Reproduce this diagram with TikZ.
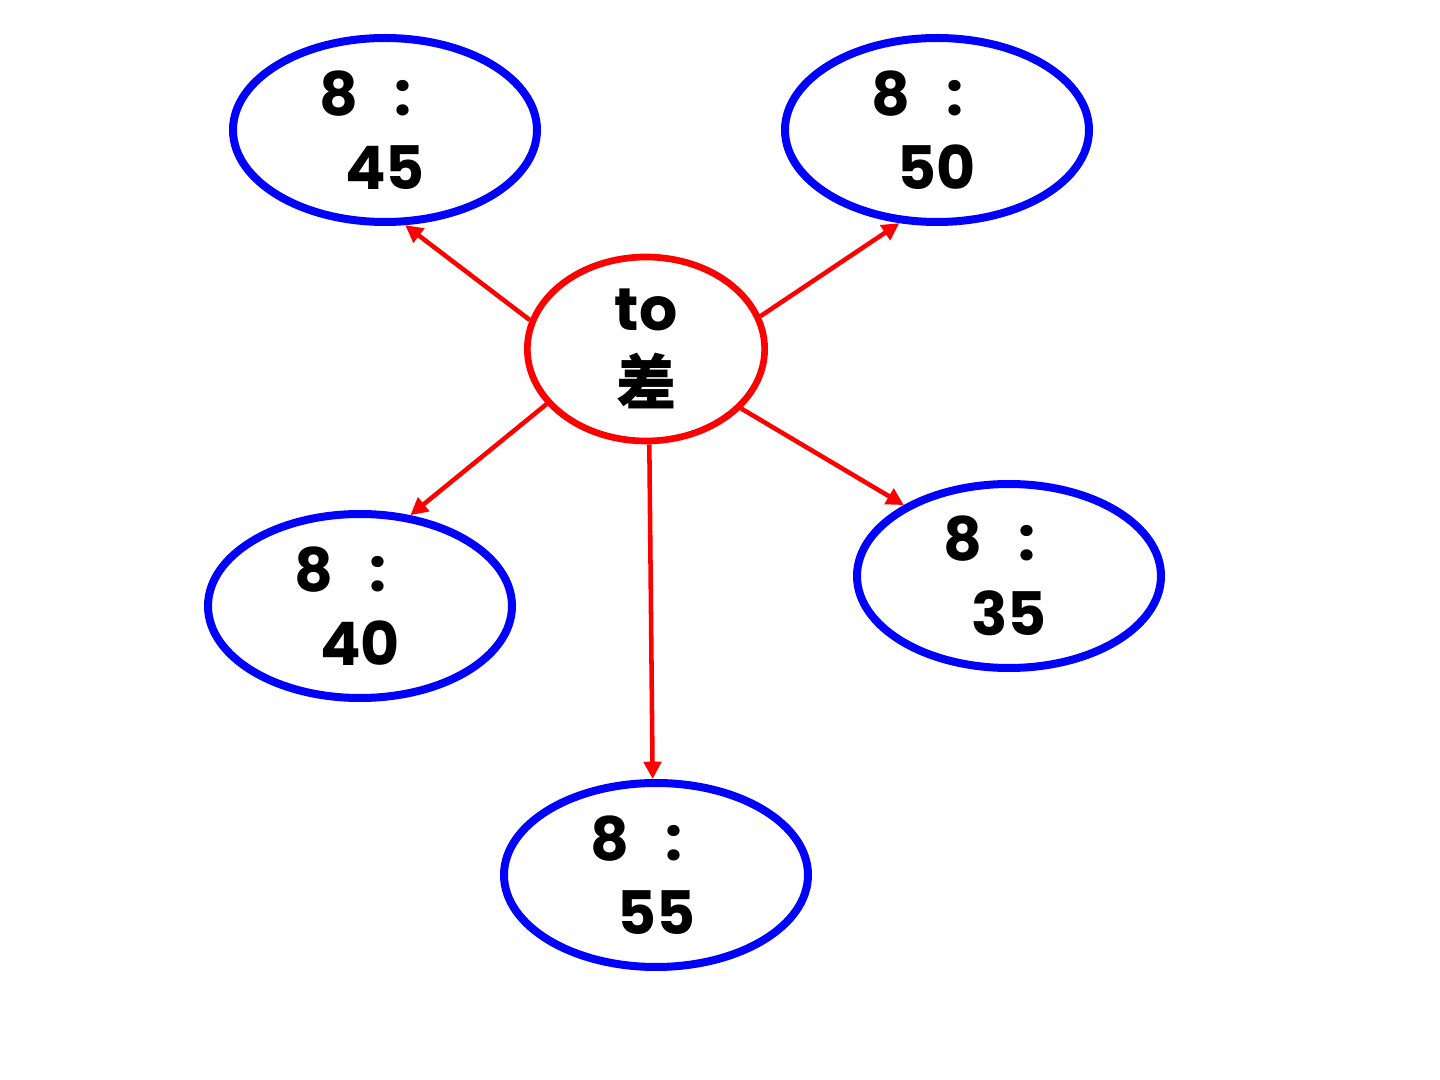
\documentclass[tikz,border=0pt]{standalone}
\usepackage{fontspec}
\setmainfont{Poppins}
\newfontfamily\cjk{Noto Sans CJK SC}
\usetikzlibrary{arrows.meta,shapes.geometric}

\newcommand{\clock}[1]{8\hspace{0.6em}:\phantom{8}\\#1}

\begin{document}
\begin{tikzpicture}[
  x=0.75pt, y=-0.75pt,
  font=\fontsize{45}{56}\selectfont\bfseries,
  time/.style={draw=blue, line width=6pt, ellipse, inner sep=0pt, minimum width=228pt, minimum height=138pt, align=center},
  hubnode/.style={draw=red, line width=5pt, ellipse, inner sep=0pt, minimum width=178pt, minimum height=138pt, align=center},
  arr/.style={-{Triangle[length=13pt,width=13pt]}, red, line width=3.4pt}
]
  \useasboundingbox (0,0) rectangle (1440,1080);

  \node[hubnode] (hub) at (646,349) {to\\{\cjk 差}};

  \node[time] (t845) at (385,130) {\clock{45}};
  \node[time] (t850) at (937,130) {\clock{50}};
  \node[time] (t840) at (360,606) {\clock{40}};
  \node[time] (t835) at (1009,576) {\clock{35}};
  \node[time] (t855) at (656,875) {\clock{55}};

  \draw[arr] (hub.166) -- (t845.-78);
  \draw[arr] (hub.16) -- (t850.-112);
  \draw[arr] (hub.-151) -- (t840.61);
  \draw[arr] (hub.-32) -- (t835.146);
  \draw[arr] (hub.-88) -- (t855.92);
\end{tikzpicture}
\end{document}
